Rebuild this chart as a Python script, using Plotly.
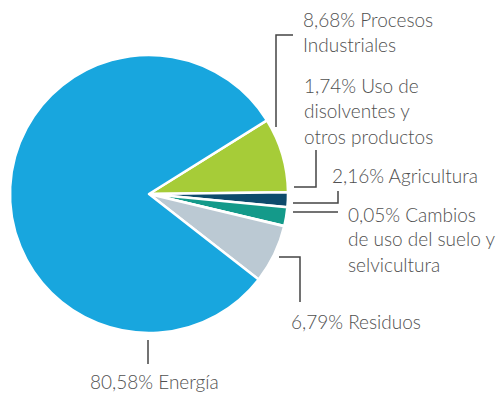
import plotly.graph_objects as go

# Emission shares by sector (%)
sectors = ["Procesos Industriales", "Uso de disolventes y otros productos", "Agricultura",
           "Cambios de uso del suelo y selvicultura", "Residuos", "Energía"]
shares = [8.68, 1.74, 2.16, 0.05, 6.79, 80.58]
colors = ["#A6CC38", "#0D4B6C", "#149A8A", "#9DD9D1", "#BBC9D3", "#18A6DE"]

label_lines = [
    ["8,68% Procesos", "Industriales"],
    ["1,74% Uso de", "disolventes y", "otros productos"],
    ["2,16% Agricultura"],
    ["0,05% Cambios", "de uso del suelo y", "selvicultura"],
    ["6,79% Residuos"],
    ["80,58% Energía"],
]

W, H = 501, 396


def px(x, y):
    return x / W, 1 - y / H


fig = go.Figure(go.Pie(
    labels=sectors, values=shares, sort=False, direction="clockwise", rotation=58,
    marker=dict(colors=colors, line=dict(color="white", width=2.5)),
    textinfo="none", hoverinfo="label+percent", showlegend=False,
    domain=dict(x=[10 / W, 288 / W], y=[1 - 333 / H, 1 - 55 / H]),
))

# label blocks: (left x, first-line centre y, anchor)
label_pos = [(301, 19, "left"), (302, 86, "left"), (330, 175, "left"),
             (346, 214, "left"), (289, 321, "left"), (154, 381, "center")]
line_gap = 25
text_color = "#505050"
for lines, (lx, ly, anchor) in zip(label_lines, label_pos):
    for i, t in enumerate(lines):
        x, y = px(lx, ly + i * line_gap)
        fig.add_annotation(x=x, y=y, xref="paper", yref="paper", text=t, showarrow=False,
                           xanchor=anchor, yanchor="middle",
                           font=dict(family="Lato", size=19, color=text_color, weight=300))

# leader lines (pixel polylines)
leaders = [
    [(293, 35), (276, 35), (276, 127)],
    [(316, 150), (316, 187), (294, 187)],
    [(338, 191), (338, 203), (293, 203)],
    [(338, 212), (293, 212)],
    [(279, 257), (300, 257), (300, 302)],
    [(148, 340), (148, 364)],
]
for pts in leaders:
    path = ""
    for j, (a, b) in enumerate(pts):
        x, y = px(a, b)
        path += ("M" if j == 0 else "L") + f"{x},{y} "
    fig.add_shape(type="path", path=path.strip(), xref="paper", yref="paper",
                  line=dict(color="#444444", width=1.5))

fig.update_layout(width=W, height=H, margin=dict(l=0, r=0, t=0, b=0),
                  paper_bgcolor="white", plot_bgcolor="white")
fig.write_html("out.html")
